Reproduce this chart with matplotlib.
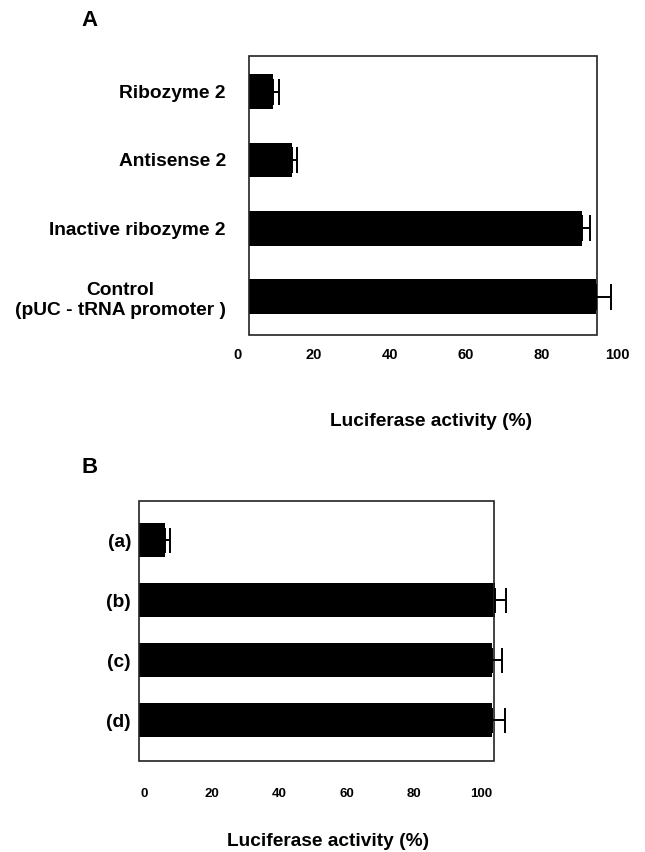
import matplotlib.pyplot as plt
from matplotlib.patches import Rectangle

plt.rcParams['font.family'] = ['Liberation Sans', 'DejaVu Sans']
plt.rcParams['font.weight'] = 'bold'

# panel A
labels_a = ['Ribozyme 2', 'Antisense 2', 'Inactive ribozyme 2',
            'Control\n(pUC - tRNA promoter )']
values_a = [9.3, 14.3, 90.7, 94.3]
errors_a = [1.6, 1.4, 2.1, 4.0]

# panel B
labels_b = ['(a)', '(b)', '(c)', '(d)']
values_b = [6.0, 103.9, 103.1, 103.1]
errors_b = [1.7, 3.4, 3.0, 3.9]

ticks = [0, 20, 40, 60, 80, 100]

W, H = 645, 852
fig = plt.figure(figsize=(W / 100, H / 100), dpi=100)


def box(left, top, right, bottom):
    return [left / W, 1 - bottom / H, (right - left) / W, (bottom - top) / H]


def panel(pos, labels, values, errors, frame, ylim, height,
          tick_size, tick_pad, lab_pad, cap):
    ax = fig.add_axes(pos)
    y = list(range(len(values)))
    x0 = frame[0]
    ax.barh(y, [v - x0 for v in values], left=x0, height=height,
            color='black', clip_on=False)
    ax.errorbar(values, y, xerr=[[0] * len(errors), errors], fmt='none',
                ecolor='black', elinewidth=1.4, capsize=cap, capthick=1.4,
                clip_on=False)
    ax.add_patch(Rectangle((frame[0], 0), frame[1] - frame[0], 1,
                           transform=ax.get_xaxis_transform(), fill=False,
                           edgecolor='#222222', linewidth=1.2, clip_on=False))
    ax.set_xlim(0, 100)
    ax.set_ylim(*ylim)
    for s in ax.spines.values():
        s.set_visible(False)
    ax.set_xticks(ticks)
    ax.set_xticklabels([str(t) for t in ticks], fontsize=tick_size,
                       fontweight='bold')
    ax.set_yticks(y)
    ax.set_yticklabels(labels, fontsize=13.8, fontweight='bold',
                       multialignment='center', linespacing=1.25)
    ax.tick_params(axis='x', length=0, pad=tick_pad)
    ax.tick_params(axis='y', length=0, pad=lab_pad)
    return ax


panel(box(237.5, 56, 617.5, 335), labels_a, values_a, errors_a,
      frame=(3.0, 94.6), ylim=(3.56, -0.52), height=0.51,
      tick_size=10.5, tick_pad=9.5, lab_pad=8.3, cap=9.4)
panel(box(144.5, 501, 481.5, 761), labels_b, values_b, errors_b,
      frame=(-1.6, 103.7), ylim=(3.68, -0.65), height=0.57,
      tick_size=9.5, tick_pad=19.5, lab_pad=9.7, cap=9.0)

fig.text(89 / W, 1 - 20 / H, 'A', fontsize=16, fontweight='bold',
         ha='center', va='center')
fig.text(89.5 / W, 1 - 467.5 / H, 'B', fontsize=16, fontweight='bold',
         ha='center', va='center')
fig.text(431.5 / W, 1 - 421 / H, 'Luciferase activity (%)', fontsize=13.8,
         fontweight='bold', ha='center', va='center')
fig.text(328 / W, 1 - 842 / H, 'Luciferase activity (%)', fontsize=13.8,
         fontweight='bold', ha='center', va='center')

fig.savefig('out.png', dpi=100)
